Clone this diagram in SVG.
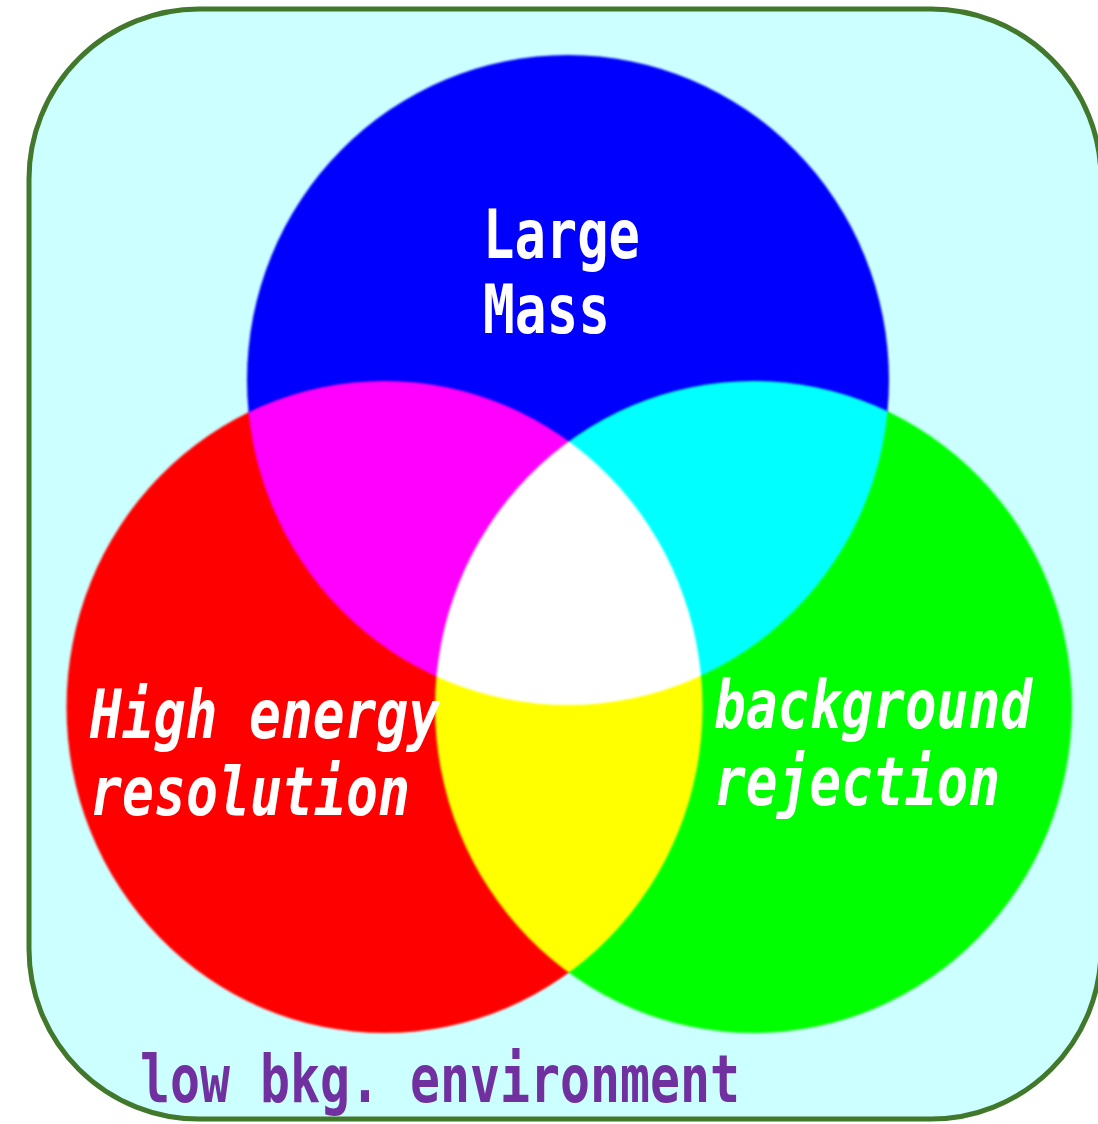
<svg xmlns="http://www.w3.org/2000/svg" width="1098" height="1124" viewBox="0 0 1098 1124">
  <style>
    .lbl { font-family: "DejaVu Sans Mono", "Liberation Mono", monospace; font-weight: bold; font-size: 68px; fill: #ffffff; }
    .it { font-style: italic; }
    .env { font-family: "DejaVu Sans Mono", "Liberation Mono", monospace; font-weight: bold; font-size: 66px; fill: #7030a0; }
    .c { mix-blend-mode: screen; filter: url(#soft); }
  </style>
  <defs>
    <filter id="soft" x="-5%" y="-5%" width="110%" height="110%">
      <feGaussianBlur stdDeviation="1.2"/>
    </filter>
  </defs>
  <rect id="frame" x="29" y="9" width="1072" height="1110" rx="170" ry="170" fill="#ccffff" stroke="#41782b" stroke-width="5"/>
  <g id="circles" style="isolation:isolate">
    <g id="node-energy"><ellipse class="c" cx="384.5" cy="707" rx="318" ry="326" fill="#ff0000"/></g>
    <g id="node-background"><ellipse class="c" cx="753.5" cy="707" rx="318.5" ry="326" fill="#00ff00"/></g>
    <g id="node-mass"><ellipse class="c" cx="568" cy="380" rx="321" ry="325" fill="#0000ff"/></g>
  </g>
  <g id="labels">
    <g id="label-mass">
      <text class="lbl" x="483" y="258" textLength="157" lengthAdjust="spacingAndGlyphs">Large</text>
      <text class="lbl" x="483" y="333" textLength="127" lengthAdjust="spacingAndGlyphs">Mass</text>
    </g>
    <g id="label-energy">
      <text class="lbl it" x="90" y="738" textLength="350" lengthAdjust="spacingAndGlyphs">High energy</text>
      <text class="lbl it" x="90" y="815" textLength="320" lengthAdjust="spacingAndGlyphs">resolution</text>
    </g>
    <g id="label-background">
      <text class="lbl it" x="714" y="728" textLength="318" lengthAdjust="spacingAndGlyphs">background</text>
      <text class="lbl it" x="714" y="805" textLength="286" lengthAdjust="spacingAndGlyphs">rejection</text>
    </g>
    <g id="label-env">
      <text class="env" x="140" y="1102" textLength="600" lengthAdjust="spacingAndGlyphs">low bkg. environment</text>
    </g>
  </g>
  <g id="connectors"/>
</svg>
